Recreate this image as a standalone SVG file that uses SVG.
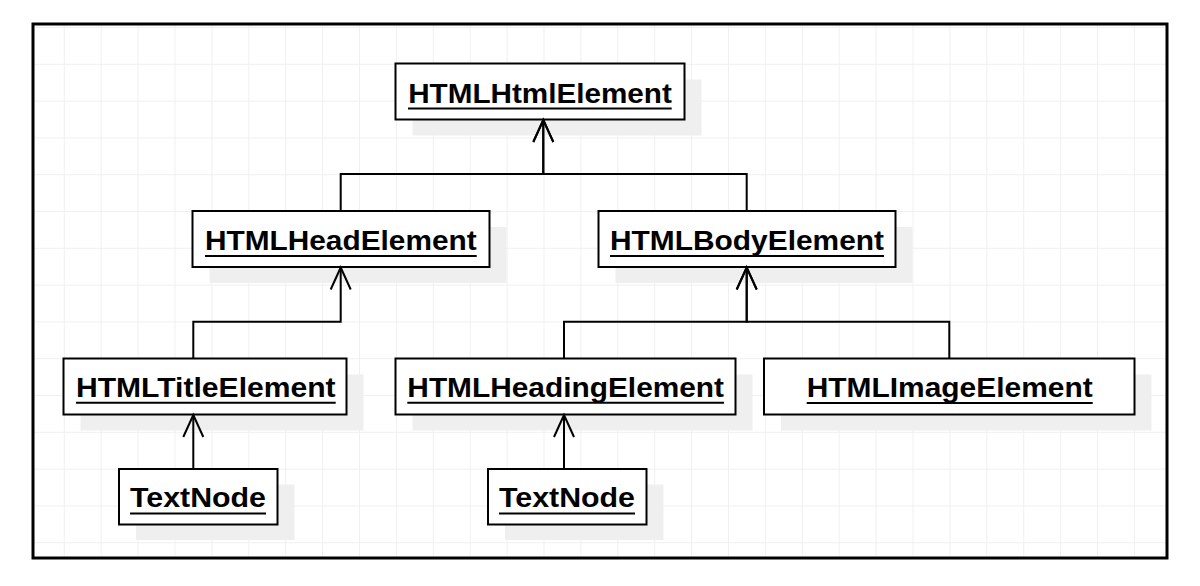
<svg xmlns="http://www.w3.org/2000/svg" width="1200" height="586" viewBox="0 0 1200 586">
  <style>
    .box { fill: #ffffff; stroke: #000000; stroke-width: 2; }
    .shadow { fill: #efefef; stroke: none; }
    .label { font-family: "Liberation Sans", Arial, sans-serif; font-weight: bold; font-size: 28px; fill: #000000; text-anchor: middle; }
    .ul { stroke: #000000; stroke-width: 2; }
    .conn { fill: none; stroke: #000000; stroke-width: 2; }
  </style>
  <defs>
    <pattern id="grid" x="63.8" y="63.8" width="36.9" height="36.8" patternUnits="userSpaceOnUse">
      <path d="M0.5,0 V36.8 M0,0.5 H36.9" stroke="#f0f0f0" stroke-width="1" fill="none"/>
    </pattern>
    <marker id="open" refX="0" refY="0" markerWidth="30" markerHeight="30" markerUnits="userSpaceOnUse" orient="auto" overflow="visible">
      <path d="M-22,-10 L0,0 L-22,10" fill="none" stroke="#000000" stroke-width="2"/>
    </marker>
  </defs>

  <rect x="0" y="0" width="1200" height="586" fill="#ffffff"/>
  <rect x="33" y="24" width="1134" height="534" fill="#ffffff"/>
  <rect x="34.5" y="25.5" width="1131" height="531" fill="url(#grid)"/>
  <rect x="33" y="24" width="1134" height="534" fill="none" stroke="#000000" stroke-width="3"/>

  <g id="html">
    <rect class="shadow" x="412.5" y="79.5" width="289" height="56"/>
    <rect class="box" x="395.5" y="63.5" width="289" height="56"/>
    <text class="label" x="540" y="102.7" textLength="263.7" lengthAdjust="spacingAndGlyphs">HTMLHtmlElement</text>
    <line class="ul" x1="408" y1="108.5" x2="671.7" y2="108.5"/>
  </g>

  <g id="head">
    <rect class="shadow" x="209.5" y="227" width="297" height="56"/>
    <rect class="box" x="192.5" y="211" width="297" height="56"/>
    <text class="label" x="340.8" y="250" textLength="271.7" lengthAdjust="spacingAndGlyphs">HTMLHeadElement</text>
    <line class="ul" x1="205" y1="256" x2="476.7" y2="256"/>
  </g>

  <g id="body">
    <rect class="shadow" x="615.5" y="227" width="297" height="56"/>
    <rect class="box" x="598.5" y="211" width="297" height="56"/>
    <text class="label" x="747" y="250" textLength="274" lengthAdjust="spacingAndGlyphs">HTMLBodyElement</text>
    <line class="ul" x1="610" y1="256" x2="884" y2="256"/>
  </g>

  <g id="title">
    <rect class="shadow" x="80.5" y="374.5" width="283" height="56"/>
    <rect class="box" x="63.5" y="358.5" width="283" height="56"/>
    <text class="label" x="205.8" y="396.7" textLength="259.7" lengthAdjust="spacingAndGlyphs">HTMLTitleElement</text>
    <line class="ul" x1="76" y1="402.7" x2="335.7" y2="402.7"/>
  </g>

  <g id="heading">
    <rect class="shadow" x="412.5" y="374.5" width="340" height="56"/>
    <rect class="box" x="395.5" y="358.5" width="340" height="56"/>
    <text class="label" x="565.7" y="396.7" textLength="316.7" lengthAdjust="spacingAndGlyphs">HTMLHeadingElement</text>
    <line class="ul" x1="407.3" y1="402.7" x2="724" y2="402.7"/>
  </g>

  <g id="image">
    <rect class="shadow" x="781" y="374.5" width="370.5" height="56"/>
    <rect class="box" x="764" y="358.5" width="370.5" height="56"/>
    <text class="label" x="949.7" y="397" textLength="286" lengthAdjust="spacingAndGlyphs">HTMLImageElement</text>
    <line class="ul" x1="806.7" y1="403" x2="1092.7" y2="403"/>
  </g>

  <g id="textnode1">
    <rect class="shadow" x="136" y="484.5" width="158.5" height="55.5"/>
    <rect class="box" x="119" y="469" width="158.5" height="55.5"/>
    <text class="label" x="198" y="507" textLength="136" lengthAdjust="spacingAndGlyphs">TextNode</text>
    <line class="ul" x1="130" y1="513.5" x2="266" y2="513.5"/>
  </g>

  <g id="textnode2">
    <rect class="shadow" x="505" y="484.5" width="158.5" height="55.5"/>
    <rect class="box" x="488" y="469" width="158.5" height="55.5"/>
    <text class="label" x="567" y="507" textLength="136" lengthAdjust="spacingAndGlyphs">TextNode</text>
    <line class="ul" x1="499" y1="513.5" x2="635" y2="513.5"/>
  </g>

  <g id="connectors">
    <path class="conn" d="M340.7,211 V174 H543.3 V120" marker-end="url(#open)"/>
    <path class="conn" d="M746.7,211 V174 H543.3 V120" marker-end="url(#open)"/>
    <path class="conn" d="M193.3,358.5 V321.7 H340.7 V267.5" marker-end="url(#open)"/>
    <path class="conn" d="M564,358.5 V321.7 H746.7 V267.5" marker-end="url(#open)"/>
    <path class="conn" d="M949.3,358.5 V321.7 H746.7 V267.5" marker-end="url(#open)"/>
    <path class="conn" d="M193.3,469 V415" marker-end="url(#open)"/>
    <path class="conn" d="M564,469 V415" marker-end="url(#open)"/>
  </g>
</svg>
